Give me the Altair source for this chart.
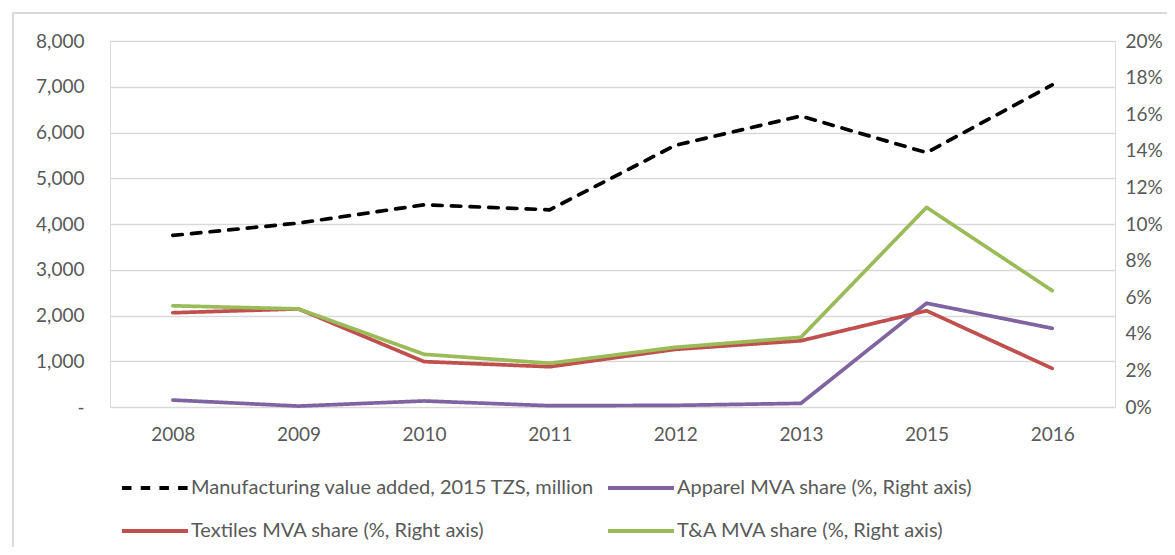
import altair as alt
import pandas as pd

years = ["2008", "2009", "2010", "2011", "2012", "2013", "2015", "2016"]
mva = [3750, 4020, 4420, 4310, 5720, 6360, 5560, 7040]
apparel = [0.38, 0.05, 0.33, 0.07, 0.09, 0.20, 5.67, 4.30]
textiles = [5.15, 5.36, 2.48, 2.20, 3.15, 3.62, 5.26, 2.11]
ta = [5.53, 5.36, 2.88, 2.39, 3.26, 3.81, 10.91, 6.36]

left_ticks = [0, 1000, 2000, 3000, 4000, 5000, 6000, 7000, 8000]
right_ticks = [0, 2, 4, 6, 8, 10, 12, 14, 16, 18, 20]

names = [
    "Manufacturing value added, 2015 TZS, million",
    "Apparel MVA share (%, Right axis)",
    "Textiles MVA share (%, Right axis)",
    "T&A MVA share (%, Right axis)",
]
colors = ["#000000", "#8064A2", "#C0504D", "#9BBB59"]
dashes = [[9.5, 9.2], [1, 0], [1, 0], [1, 0]]

mva_df = pd.DataFrame({"year": years, "value": mva, "series": names[0]})
share_df = pd.concat([
    pd.DataFrame({"year": years, "value": apparel, "series": names[1]}),
    pd.DataFrame({"year": years, "value": textiles, "series": names[2]}),
    pd.DataFrame({"year": years, "value": ta, "series": names[3]}),
])

FONT = "Lato"
GRAY = "#595959"
FS = 19

legend = alt.Legend(
    title=None, orient="none", legendX=10, legendY=436, columns=2,
    direction="horizontal",
    symbolType="M-1,0L6.33,0", symbolSize=324, symbolStrokeWidth=4,
    labelOffset=49, labelFontSize=20, labelColor=GRAY, labelFont=FONT,
    labelLimit=700, rowPadding=22, columnPadding=5, padding=0,
)

x_enc = alt.X(
    "year:O", sort=years, scale=alt.Scale(type="point", padding=0.5),
    axis=alt.Axis(title=None, labelAngle=0, ticks=False, domain=False,
                  labelPadding=18, labelFontSize=FS, labelColor=GRAY,
                  labelFont=FONT, grid=False),
)
color_enc = alt.Color("series:N", scale=alt.Scale(domain=names, range=colors), legend=legend)
dash_enc = alt.StrokeDash("series:N", scale=alt.Scale(domain=names, range=dashes), legend=legend)

mva_layer = alt.Chart(mva_df).mark_line(strokeWidth=3.7, strokeCap="round").encode(
    x=x_enc,
    y=alt.Y("value:Q", scale=alt.Scale(domain=[0, 8000]),
            axis=alt.Axis(title=None, orient="left", values=left_ticks,
                          labelExpr="datum.value == 0 ? '-\u2007\u2007' : format(datum.value, ',')",
                          grid=True, gridColor="#d9d9d9", gridWidth=1.3,
                          ticks=False, domain=False, labelPadding=26,
                          labelFontSize=FS, labelColor=GRAY, labelFont=FONT)),
    color=color_enc,
    strokeDash=dash_enc,
)

share_layer = alt.Chart(share_df).mark_line(strokeWidth=3.7, strokeCap="round", strokeJoin="round").encode(
    x=x_enc,
    y=alt.Y("value:Q", scale=alt.Scale(domain=[0, 20]),
            axis=alt.Axis(title=None, orient="right", values=right_ticks,
                          labelExpr="datum.value + '%'",
                          grid=False, ticks=False, domain=False, labelPadding=10,
                          labelFontSize=FS, labelColor=GRAY, labelFont=FONT)),
    color=color_enc,
    strokeDash=dash_enc,
)

frame = alt.Chart(alt.Data(values=[{}])).mark_rect(
    fillOpacity=0, stroke="#d9d9d9", strokeWidth=2
).encode(
    x=alt.value(-97), x2=alt.value(1100), y=alt.value(-28), y2=alt.value(600)
)

chart = alt.layer(mva_layer, share_layer, frame).resolve_scale(
    y="independent"
).properties(
    width=1005, height=366,
    autosize=alt.AutoSizeParams(type="none"),
    padding={"left": 102, "top": 33, "right": 52, "bottom": 140},
).configure_view(stroke=None).configure(font=FONT)

chart.save("out.html", embed_options={"renderer": "svg", "actions": False})
